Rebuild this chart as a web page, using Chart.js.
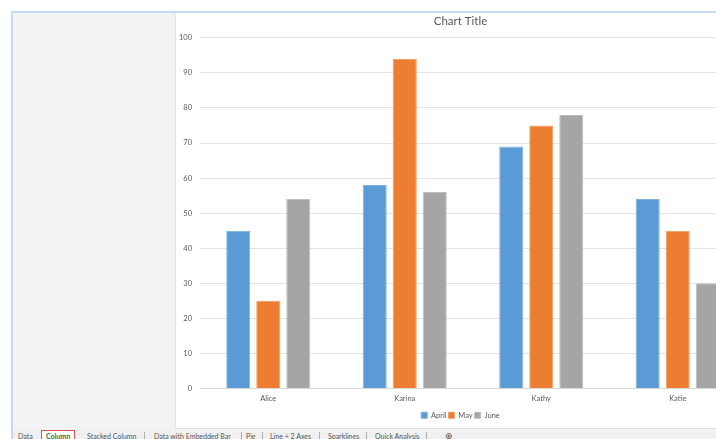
<!DOCTYPE html>
<html>
<head>
<meta charset="utf-8">
<script src="https://cdn.jsdelivr.net/npm/chart.js@4"></script>
<style>
  html, body { margin: 0; padding: 0; width: 716px; height: 439px; overflow: hidden; background: #ffffff; font-family: Lato, "Open Sans", sans-serif; }
  #frame { position: absolute; left: 11px; top: 11px; width: 720px; height: 440px; border-left: 2px solid #c6d9f0; border-top: 2px solid #c6d9f0; background: #f3f3f3; }
  #chartbox { position: absolute; left: 175px; top: 13px; width: 600px; height: 415px; background: #ffffff; border-left: 1px solid #e6e6e6; border-bottom: 1px solid #e0e0e0; }
  #c { position: absolute; left: 175px; top: 12px; }
  #tabs { position: absolute; left: 13px; top: 430px; width: 703px; height: 12px; background: #f0f0f0; font-size: 7px; color: #555; }
  .tab { position: absolute; top: 2px; white-space: nowrap; }
  .sep { position: absolute; top: 2px; width: 1px; height: 9px; background: #b0b0b0; }
  .active { color: #217346; font-weight: bold; border: 1px solid #e05050; border-bottom: none; top: 0px; padding: 1px 4px 0 4px; height: 12px; background: #fff; }
</style>
</head>
<body>
<div id="frame"></div>
<div id="chartbox"></div>
<canvas id="c" width="582" height="417"></canvas>
<div id="tabs"></div>
<script>
// ---- data ----
const categories = ['Alice', 'Karina', 'Kathy', 'Katie'];
const seriesNames = ['April', 'May', 'June'];
const april = [45, 58, 69, 54];
const may = [25, 94, 75, 45];
const june = [54, 56, 78, 30];
const yTicks = [0, 10, 20, 30, 40, 50, 60, 70, 80, 90, 100];
const chartTitle = 'Chart Title';
const sheetTabs = ['Data', 'Column', 'Stacked Column', 'Data with Embedded Bar', 'Pie', 'Line + 2 Axes', 'Sparklines', 'Quick Analysis'];

// ---- sheet tabs ----
const tabX = [5, 28, 74, 141, 233, 257, 315, 362];
const sepX = [131, 228, 249, 306, 353, 413];
const tabsEl = document.getElementById('tabs');
sheetTabs.forEach((t, i) => {
  const d = document.createElement('div');
  d.className = 'tab' + (i === 1 ? ' active' : '');
  d.style.left = tabX[i] + 'px';
  d.textContent = t;
  tabsEl.appendChild(d);
});
sepX.forEach(x => {
  const s = document.createElement('div');
  s.className = 'sep';
  s.style.left = x + 'px';
  tabsEl.appendChild(s);
});
const plus = document.createElement('div');
plus.className = 'tab';
plus.style.left = '432px';
plus.style.top = '0px';
plus.style.fontSize = '9px';
plus.textContent = '⊕';
tabsEl.appendChild(plus);

// ---- chart ----
const colors = ['#5b9bd5', '#ed7d31', '#a5a5a5'];
const borders = ['#7fb1df', '#f19a5f', '#bdbdbd'];
const values = [april, may, june];

new Chart(document.getElementById('c'), {
  type: 'bar',
  data: {
    labels: categories,
    datasets: seriesNames.map((n, i) => ({
      label: n,
      data: values[i],
      backgroundColor: colors[i],
      borderColor: borders[i],
      borderWidth: 1,
      categoryPercentage: 0.66,
      barPercentage: 0.8
    }))
  },
  options: {
    responsive: false,
    animation: false,
    devicePixelRatio: 1,
    layout: { padding: { left: 0, right: 11, top: 0, bottom: 0 } },
    plugins: {
      title: {
        display: true,
        text: chartTitle,
        color: '#595959',
        font: { family: 'Lato', size: 11.5, weight: 'normal' },
        padding: { top: 2, bottom: 10 }
      },
      legend: {
        position: 'bottom',
        labels: {
          boxWidth: 6, boxHeight: 6,
          color: '#595959',
          font: { family: 'Lato', size: 7.5 },
          padding: 2
        }
      },
      tooltip: { enabled: false }
    },
    scales: {
      x: {
        grid: { display: false, drawTicks: false },
        border: { display: true, color: '#d9d9d9' },
        ticks: { color: '#595959', font: { family: 'Lato', size: 7.5 }, padding: 6 }
      },
      y: {
        min: 0, max: 100,
        afterBuildTicks: (s) => { s.ticks = yTicks.map(v => ({ value: v })); },
        afterFit: (s) => { s.width = 25; },
        grid: { color: '#e3e3e3', drawTicks: false },
        border: { display: false },
        ticks: { color: '#595959', font: { family: 'Lato', size: 7.5 }, padding: 8 }
      }
    }
  }
});
</script>
</body>
</html>
